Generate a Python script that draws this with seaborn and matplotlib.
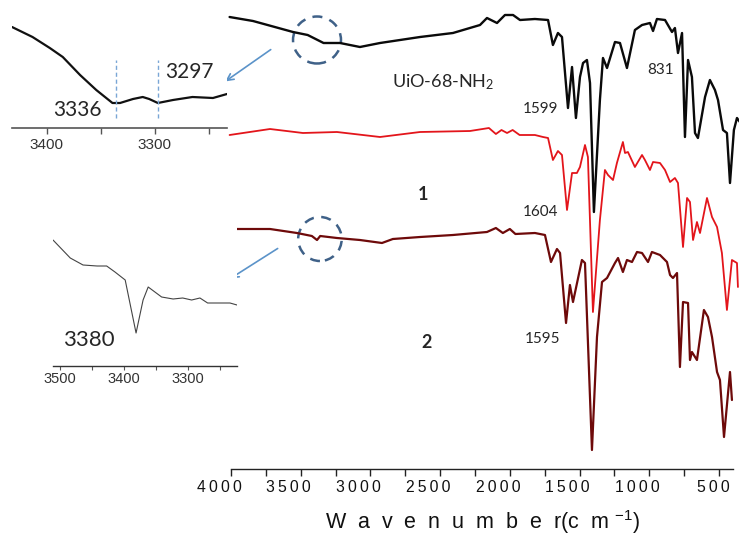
import matplotlib
matplotlib.use("Agg")
import matplotlib.pyplot as plt
import seaborn as sns
import pandas as pd
from matplotlib.patches import Ellipse
from matplotlib.transforms import ScaledTranslation

sns.set_theme(style="white")
plt.rcParams['font.family'] = ['Liberation Sans', 'DejaVu Sans']
plt.rcParams['mathtext.default'] = 'regular'

# ---------------- data ----------------
# UiO-68-NH2 (black)
wn_black = [4010, 3842, 3555, 3450, 3336, 3297, 3218, 3075, 2931, 2644, 2408, 2214, 2164,
            2092, 2035, 1977, 1927, 1820, 1726, 1691, 1655, 1626, 1583, 1554, 1526, 1497,
            1475, 1447, 1425, 1397, 1354, 1332, 1303, 1246, 1210, 1160, 1103, 1052, 995,
            973, 945, 887, 837, 816, 794, 765, 744, 722, 694, 672, 651, 600, 565, 529, 507,
            471, 443, 421, 393, 371, 350]
t_black = [452, 448, 437, 434, 426, 426, 426, 422, 426, 432, 436, 444, 451,
           446, 454, 454, 449, 450, 449, 424, 436, 432, 361, 402, 351, 392,
           406, 409, 386, 257, 369, 411, 401, 427, 426, 401, 439, 444, 446,
           438, 450, 449, 437, 441, 416, 436, 332, 409, 392, 336, 331, 372, 389, 379, 369,
           339, 336, 286, 339, 351, 347]

# compound 1 (red)
wn_red = [4010, 3720, 3484, 3240, 2931, 2644, 2286, 2150, 2100, 2060, 2020, 1980, 1930,
          1820, 1762, 1726, 1691, 1655, 1626, 1590, 1554, 1519, 1497, 1461, 1440, 1404,
          1354, 1318, 1296, 1260, 1232, 1189, 1174, 1153, 1103, 1052, 1031, 995, 973, 923,
          887, 851, 816, 794, 758, 729, 708, 686, 658, 636, 586, 550, 514, 479, 443, 407,
          371, 364]
t_red = [334, 340, 336, 337, 332, 337, 338, 341, 335, 339, 336, 339, 334,
         334, 332, 331, 309, 318, 314, 259, 296, 296, 302, 324, 312, 157,
         249, 299, 294, 289, 306, 327, 316, 317, 302, 314, 309, 299, 307, 306,
         299, 287, 291, 286, 222, 271, 267, 229, 247, 236, 271, 252, 242, 216, 159, 209,
         206, 182]

# compound 2 (dark red)
wn_dark = [4010, 3720, 3527, 3420, 3383, 3360, 3240, 3075, 2917, 2839, 2644, 2408, 2164,
           2100, 2050, 2000, 1960, 1820, 1748, 1705, 1662, 1640, 1597, 1569, 1547, 1483,
           1461, 1411, 1375, 1339, 1303, 1246, 1224, 1189, 1160, 1124, 1088, 1052, 1009,
           981, 923, 873, 851, 830, 801, 780, 758, 722, 708, 694, 658, 608, 579, 550, 514,
           493, 464, 421, 407]
t_dark = [240, 240, 236, 233, 229, 233, 231, 229, 226, 230, 232, 234, 237,
          241, 236, 240, 235, 236, 234, 207, 220, 216, 146, 184, 167, 209,
          206, 19, 132, 187, 191, 206, 211, 197, 209, 207, 217, 216, 207,
          217, 214, 207, 194, 191, 196, 102, 167, 166, 109, 117, 109, 159, 152, 132, 97,
          89, 32, 97, 69]

# inset 1 (UiO-68-NH2, N-H region)
wn_in1 = [3432, 3413, 3397, 3385, 3369, 3354, 3339, 3332, 3320, 3311, 3305, 3297, 3283,
          3265, 3246, 3233]
t_in1 = [101, 91, 80, 71, 53, 38, 25, 25, 29, 31, 29, 25, 28, 31, 30, 34]

# inset 2 (compound 2, N-H region)
wn_in2 = [3511, 3484, 3464, 3442, 3427, 3414, 3398, 3381, 3370, 3362, 3341, 3323, 3308,
          3294, 3281, 3269, 3234, 3223]
t_in2 = [126, 108, 101, 100, 100, 94, 86, 33, 66, 79, 69, 67, 68, 66, 68, 63, 63, 61]

main_ticks = [4000, 3500, 3000, 2500, 2000, 1500, 1000, 500]
main_minor = [3750, 3250, 2750, 2250, 1750, 1250, 750]
in1_ticks = [3400, 3300]
in1_minor = [3350, 3250]
in2_ticks = [3500, 3400, 3300]
in2_minor = [3450, 3350, 3250]
in1_marks = [3336, 3297]

series_names = ['UiO-68-NH$_2$', '1', '2']
peak_labels = ['1599', '831', '1604', '1595']

df = pd.concat([
    pd.DataFrame({'wn': wn_black, 't': t_black, 's': 'black'}),
    pd.DataFrame({'wn': wn_red, 't': t_red, 's': 'red'}),
    pd.DataFrame({'wn': wn_dark, 't': t_dark, 's': 'dark'}),
])

# ---------------- figure ----------------
fig = plt.figure(figsize=(7.4, 5.4), dpi=100)
W, H = 740.0, 540.0
ax = fig.add_axes([226.8 / W, 71 / H, 511.7 / W, 469 / H])

styles = {'black': ('#0a0a0a', 1.7), 'red': ('#e3151b', 1.3), 'dark': ('#6e0a0a', 1.6)}
for key, (col, lw) in styles.items():
    sub = df[df['s'] == key]
    sns.lineplot(data=sub, x='wn', y='t', ax=ax, color=col, lw=lw, sort=False,
                 estimator=None, legend=False)

ax.set_xlim(4030, 360)
ax.set_ylim(0, 469)
for s in ['left', 'top', 'right']:
    ax.spines[s].set_visible(False)
ax.spines['bottom'].set_bounds(4000, 400)
ax.spines['bottom'].set_color('#222222')
ax.spines['bottom'].set_linewidth(1.0)
ax.set_yticks([])
ax.set_xticks(main_ticks)
ax.set_xticks(main_minor, minor=True)
ax.set_xticklabels(['\u2009'.join(str(v)) for v in main_ticks], fontsize=11.3,
                   family=['Liberation Sans', 'DejaVu Sans'], color='#111111')
ax.tick_params(axis='x', which='both', bottom=True, direction='out', length=5,
               width=1, color='#222222', pad=3)
off = ScaledTranslation(10.5 / 100, 0, fig.dpi_scale_trans)
for lab in ax.get_xticklabels():
    lab.set_horizontalalignment('right')
    lab.set_transform(lab.get_transform() + off)
ax.set_xlabel('W  a  v  e  n  u  m  b  e  r(c  m $^{-1}$)', fontsize=15.5,
              labelpad=9, color='#111111')
ax.set_ylabel('')

calib = ['Lato', 'DejaVu Sans']
ax.text(2480, 387, series_names[0], fontsize=13, ha='center', va='center', family=calib)
ax.text(2623, 274, series_names[1], fontsize=13, ha='center', va='center', family=calib,
        fontweight='bold')
ax.text(2594, 126, series_names[2], fontsize=13, ha='center', va='center', family=calib,
        fontweight='bold')
ax.text(1777, 360, peak_labels[0], fontsize=11, ha='center', va='center', family=calib)
ax.text(916, 399, peak_labels[1], fontsize=11, ha='center', va='center', family=calib)
ax.text(1777, 257, peak_labels[2], fontsize=11, ha='center', va='center', family=calib)
ax.text(1762, 130, peak_labels[3], fontsize=11, ha='center', va='center', family=calib)

# dashed circles
circ_col = '#3f6188'
ax.add_patch(Ellipse((3383, 429), 344, 47, fill=False, ls=(0, (4, 3)), lw=1.8,
                     ec=circ_col, clip_on=False))
ax.add_patch(Ellipse((3362, 230), 312, 44, fill=False, ls=(0, (4, 3)), lw=1.8,
                     ec=circ_col, clip_on=False))

# arrows (figure pixels)
arr_col = '#5b93c9'
ax.annotate('', xy=(223, H - 83), xycoords='figure pixels', xytext=(273, H - 48),
            textcoords='figure pixels',
            arrowprops=dict(arrowstyle='->', color=arr_col, lw=1.2), annotation_clip=False)
ax.annotate('', xy=(228, H - 280), xycoords='figure pixels', xytext=(280, H - 247),
            textcoords='figure pixels',
            arrowprops=dict(arrowstyle='->', color=arr_col, lw=1.2), annotation_clip=False)

# ---------------- inset 1 ----------------
ax1 = fig.add_axes([12 / W, (H - 128) / H, 215 / W, 128 / H])
sns.lineplot(x=wn_in1, y=t_in1, ax=ax1, color='#111111', lw=1.6, sort=False,
             estimator=None)
ax1.set_xlim(3432, 3233)
ax1.set_ylim(0, 128)
for s in ['left', 'top', 'right']:
    ax1.spines[s].set_visible(False)
ax1.spines['bottom'].set_color('#555555')
ax1.spines['bottom'].set_linewidth(1.2)
ax1.set_yticks([])
ax1.set_xticks(in1_ticks)
ax1.set_xticks(in1_minor, minor=True)
ax1.set_xticklabels([str(v) for v in in1_ticks], fontsize=11, color='#333333')
ax1.tick_params(axis='x', which='both', bottom=True, direction='out', length=4,
                width=1, color='#555555', pad=3)
for m in in1_marks:
    ax1.plot([m, m], [10, 68], ls=(0, (3, 2)), color='#7aa6d6', lw=1)
ax1.text(3371, 18, str(in1_marks[0]), fontsize=15, ha='center', va='center', family=calib)
ax1.text(3268, 56, str(in1_marks[1]), fontsize=15, ha='center', va='center', family=calib)

# ---------------- inset 2 ----------------
ax2 = fig.add_axes([53 / W, (H - 366) / H, 184 / W, 140 / H])
sns.lineplot(x=wn_in2, y=t_in2, ax=ax2, color='#444444', lw=0.8, sort=False,
             estimator=None)
ax2.set_xlim(3511, 3223)
ax2.set_ylim(0, 140)
for s in ['left', 'top', 'right']:
    ax2.spines[s].set_visible(False)
ax2.spines['bottom'].set_color('#333333')
ax2.spines['bottom'].set_linewidth(1.0)
ax2.set_yticks([])
ax2.set_xticks(in2_ticks)
ax2.set_xticks(in2_minor, minor=True)
ax2.set_xticklabels([str(v) for v in in2_ticks], fontsize=10.5, color='#333333')
ax2.tick_params(axis='x', which='both', bottom=True, direction='out', length=3,
                width=0.8, color='#555555', pad=1.5)
ax2.text(3455, 26, '3380', fontsize=16, ha='center', va='center', family=calib)

fig.savefig('out.png', dpi=100)
